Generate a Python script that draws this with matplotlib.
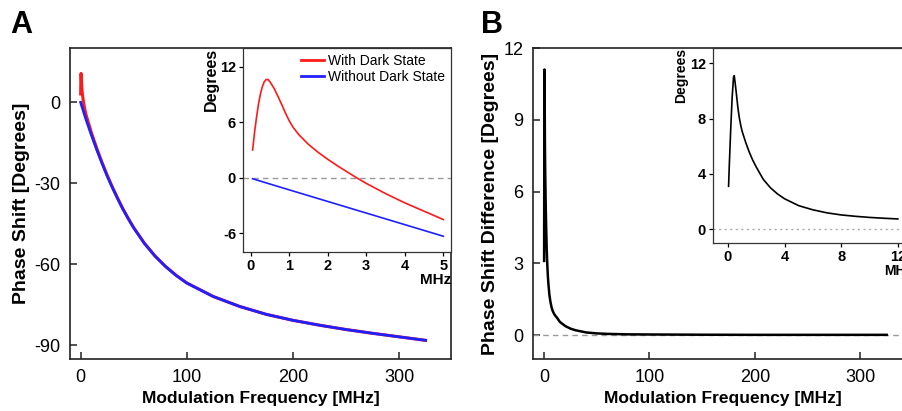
import matplotlib
matplotlib.use('Agg')
import matplotlib.pyplot as plt

plt.rcParams['font.family'] = ['Liberation Sans', 'DejaVu Sans']
plt.rcParams['axes.unicode_minus'] = False

# panel A: phase shift vs modulation frequency (MHz, degrees)
freq_without = [0.05, 1, 2, 3, 4, 5, 10, 15, 20, 25, 30, 35, 40, 45, 50, 60, 70, 80, 90,
                100, 125, 150, 175, 200, 225, 250, 275, 300, 325]
phase_without = [-0.1, -1.3, -2.55, -3.8, -5.05, -6.3, -12, -17.4, -22.5, -27.3, -31.7,
                 -35.8, -39.7, -43.2, -46.5, -52.2, -56.9, -60.8, -64.1, -66.9, -71.9,
                 -75.6, -78.5, -80.7, -82.5, -84.1, -85.5, -86.8, -88.1]
freq_with = [0.05, 0.1, 0.15, 0.2, 0.25, 0.3, 0.35, 0.4, 0.45, 0.5, 0.6, 0.7, 0.8, 0.9,
             1.0, 1.1, 1.25, 1.5, 1.75, 2.0, 2.25, 2.5, 2.75, 3.0, 3.5, 4.0, 4.5, 5.0,
             10, 15, 20, 25, 30, 35, 40, 45, 50, 60, 70, 80, 90, 100, 125, 150, 175,
             200, 225, 250, 275, 300, 325]
phase_with = [3.0, 4.9, 6.5, 7.9, 9.0, 9.8, 10.35, 10.6, 10.6, 10.35, 9.7, 8.85, 7.95,
              7.0, 6.15, 5.45, 4.65, 3.6, 2.75, 2.0, 1.3, 0.65, 0.0, -0.6, -1.7, -2.7,
              -3.6, -4.5, -11.1, -16.85, -22.1, -27.0, -31.48, -35.62, -39.57, -43.1,
              -46.41, -52.14, -56.86, -60.76, -64.07, -66.87, -71.88, -75.58, -78.49,
              -80.69, -82.49, -84.09, -85.49, -86.79, -88.09]

# panel B: phase shift difference
freq_diff = [0.05, 0.1, 0.2, 0.3, 0.4, 0.45, 0.5, 0.6, 0.7, 0.8, 0.9, 1.0, 1.25, 1.5,
             1.75, 2.0, 2.5, 3.0, 3.5, 4, 5, 6, 7, 8, 9, 10, 11, 12, 15, 20, 25, 30, 40,
             50, 60, 80, 100, 150, 200, 250, 300, 325]
phase_diff = [3.1, 4.6, 7.2, 9.5, 11.0, 11.1, 10.7, 9.8, 8.85, 8.1, 7.55, 7.1, 6.3, 5.6,
              5.0, 4.5, 3.6, 3.0, 2.55, 2.2, 1.7, 1.4, 1.18, 1.03, 0.93, 0.85, 0.79, 0.74,
              0.55, 0.38, 0.27, 0.2, 0.11, 0.07, 0.05, 0.03, 0.025, 0.015, 0.01, 0.01,
              0.01, 0.01]

red = '#ff1a1a'
blue = '#2020ff'
W, H = 902, 411
fig = plt.figure(figsize=(W / 100, H / 100), dpi=100)


def box(l, t, r, b):
    return [l / W, 1 - b / H, (r - l) / W, (b - t) / H]


def style_main(ax):
    for s in ax.spines.values():
        s.set_linewidth(1.2)
        s.set_color('#222222')
    ax.tick_params(direction='in', length=5, width=1.1, labelsize=13, pad=7,
                   color='#222222')


def style_inset(ax):
    for s in ax.spines.values():
        s.set_linewidth(0.9)
        s.set_color('#333333')
    ax.tick_params(direction='out', length=3, width=0.9, labelsize=10.5, pad=2)
    for lab in ax.get_xticklabels() + ax.get_yticklabels():
        lab.set_fontweight('bold')


n_with_inset = freq_with.index(5.0) + 1
n_without_inset = freq_without.index(5) + 1
n_diff_inset = freq_diff.index(12) + 1

# ---- A main
axA = fig.add_axes(box(70, 48, 451, 359))
axA.plot(freq_with, phase_with, color=red, lw=2.2)
axA.plot(freq_without, phase_without, color=blue, lw=2.0)
axA.set_xlim(-10, 349)
axA.set_ylim(-95, 20)
axA.set_xticks([0, 100, 200, 300])
axA.set_yticks([0, -30, -60, -90])
style_main(axA)
axA.set_xlabel('Modulation Frequency [MHz]', fontsize=12.5, fontweight='bold', labelpad=4)
axA.set_ylabel('Phase Shift [Degrees]', fontsize=14, fontweight='bold', labelpad=3)
fig.text(10 / W, 1 - 33 / H, 'A', fontsize=22, fontweight='bold')

# ---- A inset
insA = fig.add_axes(box(243, 48, 451, 252), zorder=3)
insA.axhline(0, color='#999999', lw=1.0, ls=(0, (4, 3)))
insA.plot(freq_with[:n_with_inset], phase_with[:n_with_inset], color=red, lw=1.2,
          label='With Dark State')
insA.plot(freq_without[:n_without_inset], phase_without[:n_without_inset], color=blue,
          lw=1.2, label='Without Dark State')
insA.set_xlim(-0.2, 5.2)
insA.set_ylim(-8, 14)
insA.set_xticks([0, 1, 2, 3, 4, 5])
insA.set_yticks([-6, 0, 6, 12])
style_inset(insA)
insA.set_ylabel('Degrees', fontsize=11.5, fontweight='bold', loc='top', labelpad=1)
insA.set_xlabel('MHz', fontsize=11, fontweight='bold', loc='right', labelpad=0)
leg = insA.legend(loc='upper right', bbox_to_anchor=(1.0, 1.0), frameon=False,
                  fontsize=10, handlelength=1.6, handletextpad=0.35,
                  labelspacing=0.15, borderaxespad=0.2, borderpad=0.2)
for line in leg.get_lines():
    line.set_linewidth(2.0)

# ---- B main
axB = fig.add_axes(box(533, 48, 912, 359))
axB.axhline(0, color='#999999', lw=1.0, ls=(0, (4, 3)))
axB.plot(freq_diff, phase_diff, color='black', lw=1.8)
axB.set_xlim(-10.5, 349)
axB.set_ylim(-1, 12)
axB.set_xticks([0, 100, 200, 300])
axB.set_yticks([0, 3, 6, 9, 12])
style_main(axB)
axB.set_xlabel('Modulation Frequency [MHz]', fontsize=12.5, fontweight='bold', labelpad=4)
axB.set_ylabel('Phase Shift Difference [Degrees]', fontsize=14, fontweight='bold',
               labelpad=3)
fig.text(481 / W, 1 - 33 / H, 'B', fontsize=22, fontweight='bold')

# ---- B inset
insB = fig.add_axes(box(713, 48, 912, 243), zorder=3)
insB.axhline(0, color='#aaaaaa', lw=1.0, ls=(0, (1.5, 2.5)))
insB.plot(freq_diff[:n_diff_inset], phase_diff[:n_diff_inset], color='black', lw=1.2)
insB.set_xlim(-1.05, 13)
insB.set_ylim(-1, 13.1)
insB.set_xticks([0, 4, 8, 12])
insB.set_yticks([0, 4, 8, 12])
style_inset(insB)
insB.set_ylabel('Degrees', fontsize=10, fontweight='bold', loc='top', labelpad=1)
insB.set_xlabel('MHz', fontsize=10, fontweight='bold', loc='right', labelpad=0)

fig.savefig('out.png', dpi=100)
